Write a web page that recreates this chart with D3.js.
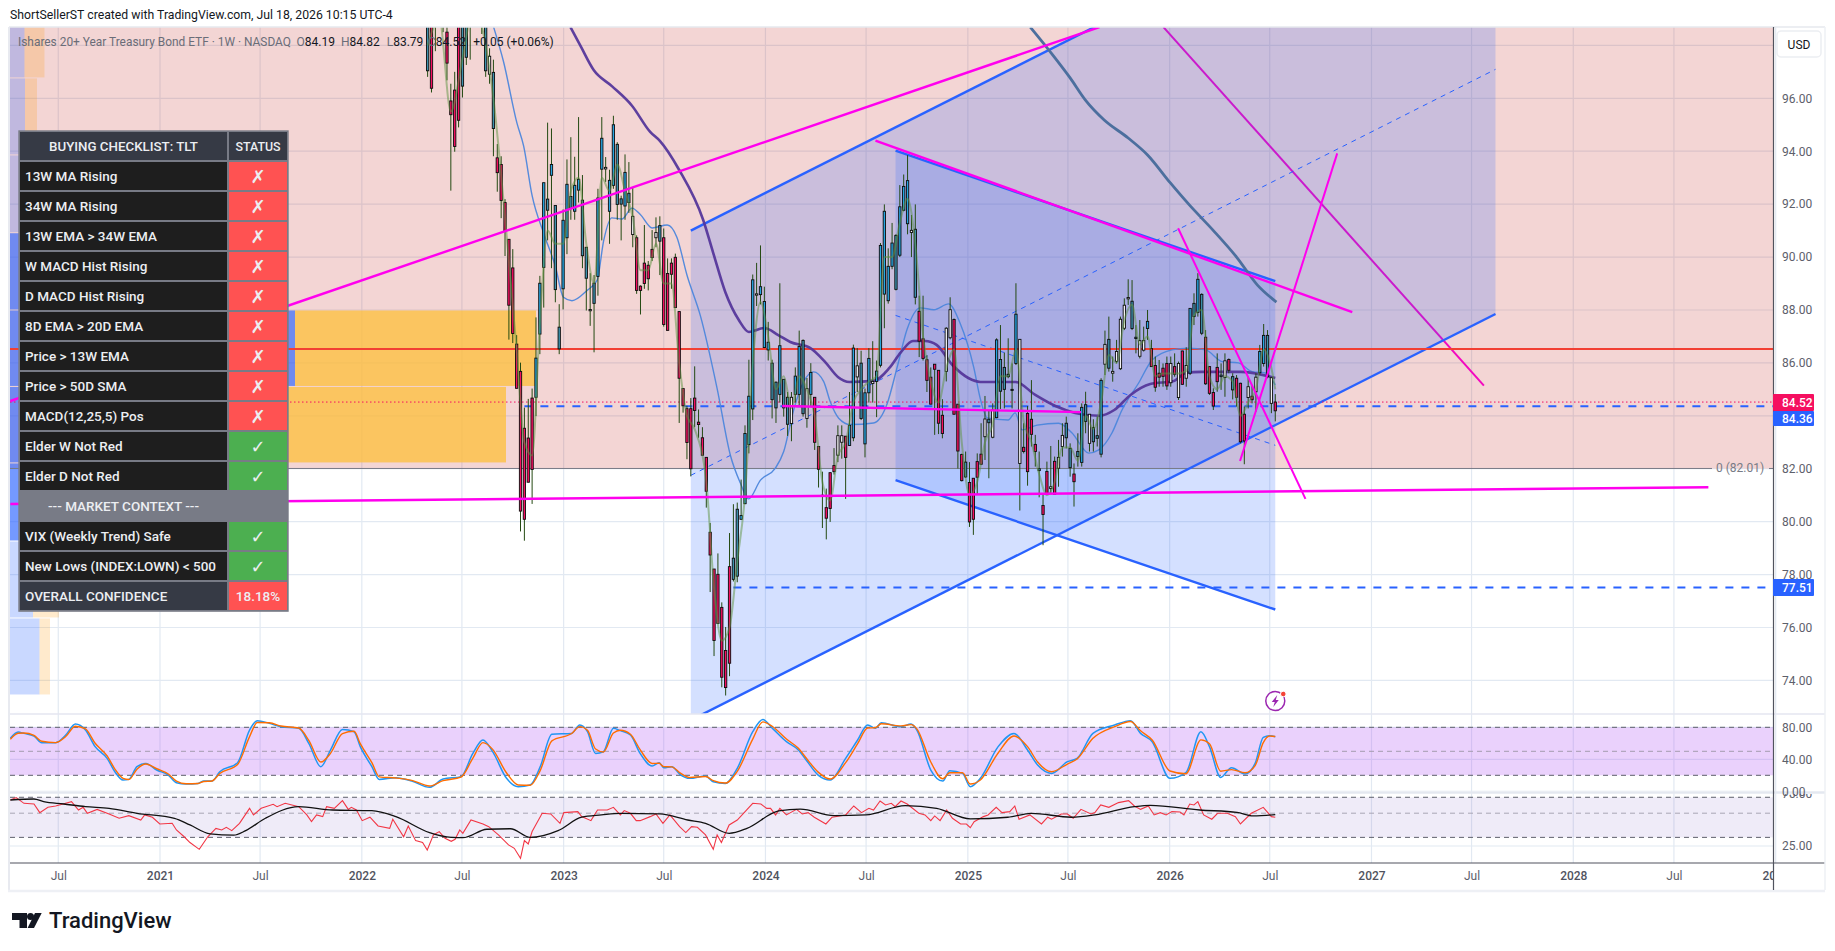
<!DOCTYPE html>
<html>
<head>
<meta charset="utf-8">
<title>TLT weekly</title>
<script src="https://cdn.jsdelivr.net/npm/d3@7"></script>
<style>
  html, body { margin: 0; padding: 0; background: #fff; overflow: hidden; }
  svg { display: block; font-family: Roboto, sans-serif; }
  .axis text { font-size: 12px; fill: #5d606b; font-family: Roboto, sans-serif; }
  .axis path, .axis line { display: none; }
</style>
</head>
<body>
<div id="chart"></div>
<script>
// weekly candles of TLT, one entry per week, last one is the current week
const weekOpen = [
  97.04,99.5,101,101,101,98.5,95.9,96.31,99.5,96.46,
  97.55,99,100,99.6,99.3,97.04,96.91,94.86,93.75,93.5,
  92.06,90.67,89.59,86.71,85.68,83.53,83.16,84.67,84.7,87.09,
  89.61,91.77,93.09,88.77,86.53,88.8,90.73,91.84,91.73,92.53,
  90.05,89.2,87.97,88.25,89.27,93.32,93.33,91.73,92.71,91.99,
  92,91.93,92.06,90.85,90.73,88.9,89.77,89.69,90.29,90.73,
  90.6,90.73,89.38,89.77,89.99,87.94,85.03,84.27,84.27,84.67,
  83.76,83.17,82.43,79.6,78.21,78.01,76.76,75.13,78.3,77.82,
  77.94,80.09,80.68,82.91,84.26,88.56,88.58,86.58,86.49,84.61,
  84.3,84.81,84.3,83.68,83.71,84.81,84.81,84.08,83.9,84.81,
  84.7,82.84,80.95,80.53,81.85,82.12,82.51,83,83.23,82.88,
  83.17,85.47,83.9,82.94,84.87,85.22,85.3,85.91,88.6,88.35,
  89.65,88.78,90.07,91.77,91.26,90.93,88.48,87.95,86.91,86.12,
  85.46,85.95,85.72,84.02,85.68,86.95,87.64,84.44,82.54,81.69,
  81.48,81.64,82.27,82.55,83.21,83.74,83.19,83.93,84.93,85,
  85.48,84.96,85.98,82.2,82.81,84.09,83.87,82.92,81.93,80.61,
  81.9,81.25,82.28,82.02,82.84,83.17,82.04,81.8,82.46,82.24,
  83.79,82.96,83.02,83.15,82.55,85.95,85.8,85.61,86.06,85.78,
  87.31,88.42,87.3,86.92,86.25,86.48,87.3,86.54,85.9,85.61,
  85.8,85.98,85.25,85.86,84.69,86.45,85.42,85.61,87.75,87.91,
  87.12,86.97,85.86,84.88,85.83,85.48,85.45,86.13,84.98,85.42,
  85.23,84.06,84.69,84.74,84.91,85.63,85.98,85.48,84.47,84.19
];
const weekHigh = [
  100.5,100.2,101.5,102,101.5,100,96.55,97,100,100,
  100,101,101.5,101,100.5,100,97.89,97.46,94.27,93.81,
  92.19,90.67,90.3,87.05,86.01,84.31,84.64,85.03,87.72,89.29,
  92.81,95.08,94.86,91.95,88.22,91.8,93.69,94.53,93.79,95.29,
  93.1,90.37,89.39,89.32,92.58,95.29,93.78,93.3,95.34,94.34,
  92.32,93.88,93.59,92.62,90.82,88.93,91.21,89.85,91.02,91.5,
  91.54,91.08,89.95,89.95,90.13,87.94,85.03,84.38,84.67,85.87,
  84.24,83.57,82.44,79.95,78.21,78.8,76.95,76.02,79.57,80.66,
  80.72,81.59,83.64,86.12,89.34,89.78,90.44,88.88,87.55,86.12,
  85.3,89.01,85.38,84.9,84.9,85.83,87.22,86.89,85.43,85.99,
  84.7,82.84,81.89,81.25,81.87,82.78,83.64,83.64,83.23,84.9,
  86.69,86.56,86.46,85.03,86.56,86.82,86.09,90.53,91.99,90.33,
  91.29,90.86,92.72,93.12,93.85,91.59,91.99,88.54,88.54,86.29,
  85.83,85.95,85.72,84.63,87.35,88.48,87.68,84.44,82.57,82.65,
  82.25,81.64,82.58,83.72,84.75,84.22,84.47,86.93,87.43,86.39,
  86.93,85.98,89.01,86.89,83.72,84.37,85.35,83.28,82.65,81.07,
  82.27,82.86,82.46,83.09,83.72,83.97,82.96,82.2,83.34,84.47,
  84.91,84.06,83.87,83.97,85.42,87.22,87.75,86.24,86.87,87.75,
  88.44,89.16,89.13,87.43,87.62,87.37,88,86.87,86.24,86.11,
  85.98,86.24,86.24,86.36,86.05,86.46,86.59,88.06,88.63,89.39,
  88.63,87.24,85.88,85.04,86.36,85.98,86.36,86.17,85.61,85.54,
  85.25,84.35,85.48,85.17,85.61,86.68,87.47,87.24,85.46,84.82
];
const weekLow = [
  96.81,96.22,97.78,99.2,98.5,96.68,92.51,93.98,94.9,96.03,
  97.26,97.46,99,99,98.43,96.81,96.55,93.81,92.47,91.47,
  90.04,86.88,86.75,85.03,79.63,79.28,81.49,80.67,83.99,86.33,
  88.09,90.63,89.58,88.29,86.33,88.02,90.11,91.41,91.41,92.06,
  89.58,87.98,87.4,86.4,88.54,90.63,92.84,90.5,92.58,91.41,
  90.63,91.41,91.67,90.37,88.61,87.83,88.8,88.74,89.85,90.37,
  89.32,87.37,87.23,88.8,88.09,83.73,84.12,82.36,81.71,83.57,
  83.17,82.51,80.53,77.34,74.92,76.15,73.74,73.43,74.16,77.74,
  77.71,80.06,80.66,82.58,83.84,88.15,88.21,86.56,86.09,83.9,
  83.73,84.5,83.97,83.24,83.04,84.5,84.37,83.97,83.55,84.37,
  82.71,81.29,79.76,79.33,79.99,81.78,82.25,82.38,80.86,82.88,
  83.04,84.9,83.84,82.43,84.5,84.5,83.95,85.83,87.31,88.24,
  89.54,88.74,90,91.73,90.86,90,88.21,86.22,86.09,84.9,
  84.44,83.28,83.31,83.15,85.3,86.89,84.04,82.01,81.52,81.65,
  79.8,79.5,81.03,82.14,82.33,81.64,83.15,83.91,84.26,84.28,
  85.42,84.28,85.92,80.42,82.58,81.36,82.84,82.08,80.92,79.11,
  81.03,81.07,81.03,81.32,82.46,82.77,81.7,80.57,82.08,82.08,
  83.34,82.65,82.65,82.84,82.43,85.54,85.67,85.29,85.98,85.73,
  87.24,88.19,87.24,86.36,86.17,86.43,86.87,85.86,84.91,85.1,
  85.1,84.98,85.1,85.48,84.6,85.17,85.1,85.54,87.43,87.75,
  87.05,85.17,84.79,84.22,84.91,84.98,84.72,85.61,84.62,84.35,
  82.96,82.17,84.28,84.47,84.16,85.54,85.86,85.42,84.1,83.79
];
const weekClose = [
  99.5,96.38,99.5,100,99.5,97.33,95.38,94.18,95.17,99.5,
  99.8,100.5,101,100.5,100,99.5,97.59,96.98,93.19,92.14,
  90.98,88.18,87.11,85.04,80.4,80.09,81.49,81.97,86.18,89.01,
  92.81,92.19,93.5,91.95,87.35,91.39,92.75,92.29,92.71,92.94,
  92.15,90.37,88.02,89.01,92.23,94.49,93.39,92.9,95,94.26,
  92.2,93.2,92.41,91.54,88.74,88.74,89,89.18,89.98,90.93,
  91.19,87.45,87.23,89.35,88.09,85.42,84.38,82.99,82,84.2,
  83.67,82.51,81.15,78.74,75.51,76.15,74.12,73.73,74.65,78.62,
  80.47,80.23,83.33,84.74,89.14,88.61,88.88,88.32,86.78,85.99,
  85.27,86.65,85.38,84.7,84.7,85.5,86.62,86.85,85.03,85.64,
  83,81.98,81,80.13,80.5,81.89,83.25,83.25,82.43,83.64,
  86.56,85.89,85.99,84.87,86.17,85.3,85.69,90.44,91.73,89.65,
  90.53,90.82,91.9,92.67,92.89,91.01,91.05,86.82,86.17,85.34,
  84.44,85.76,83.72,83.33,87.31,88.01,84.06,82.67,81.55,82.25,
  79.99,80.09,81.68,82.17,83.88,83.87,84.22,86.87,86.13,85.83,
  85.57,85,87.84,86.89,82.65,81.89,83.3,82.65,82,80.27,
  81.03,81.32,81.03,82.43,83.26,83.72,82.77,81.51,82.65,84.32,
  84.42,84.06,83.55,83.25,85.34,86.7,86.89,85.68,86.43,87.65,
  88.18,88.47,88.33,86.97,86.84,86.85,87.57,85.86,85.08,85.46,
  85.49,85.13,85.98,85.57,85.98,85.19,85.9,88.06,88.25,89.16,
  88.59,85.21,84.85,84.37,85.29,85.54,86.08,85.72,85.48,84.7,
  83.02,83.05,85.1,84.61,85.46,86.43,87.04,87.04,85.44,84.52
];
// bar colouring of the indicator: b blue, t muted blue, w white, p pink
const weekTone = "tppppppppt" + "ttttttwtpp" + "ppppppppbb" + "btbttbbtbb" + "ttwtbbwbbt" +
  "tbtwpppppw" + "tppppppppp" + "pppppppppt" + "tbbbbwbbbt" + "tbttwbbtwb" +
  "ppwpppwwpb" + "bwtbbwbbbb" + "btbbbwtppp" + "ppppwwpppt" + "ppppwtwbtt" +
  "ttbwpppptp" + "pwpwwttptb" + "twttbwtwww" + "wwttwwbppp" + "ppwpwpwbtb" +
  "tpppptwptp" + "ppwpwbbtwp";

// moving averages, read at these week numbers (0 = first candle on screen)
const fastWeeks = [0,3,6,9,12,15,17,20,23,25,27,29,31,33,35,37,39,41,43,45,47,49,51,53,55,57,59,61,63,65,67,69,72,74,76,78,80,82,84,86,88,90,92,94,96,98,100,102,104,106,108,110,112,114,116,118,120,122,124,126,128,130,132,134,136,138,140,142,144,146,148,150,152,154,156,158,160,162,164,166,168,170,172,174,176,178,180,182,184,186,188,190,192,194,196,198,200,202,204,206,208,210,212,214,216,218,219];
const fastValues = [98,99,95.5,97.5,99.5,98,96,91.5,86.5,83,82.5,87.5,91,90.5,90.5,92.5,93,90.5,89,93,92.5,93.5,92.5,91.5,89.5,89.5,90.5,89,89,86,84,83.5,81.5,77.5,75.5,76,78.5,81,86,88.3,87,85,85.5,84.3,85.5,85,84,81.5,80.8,82.5,83,84.5,85,85.3,85.5,90,90,91.3,92.2,90.5,87,85.3,84.5,85.8,86.5,83,81,81.5,83,83.7,85.5,85.5,86.5,83.8,83,81.8,81,81.5,82.8,82.8,82.3,84,83.5,84.5,86.3,86,87.6,88.2,86.7,87,85.5,85.6,85.6,85.6,85.7,87.8,88,85.5,85,85.5,85.3,84,84.5,85,86.5,85.8,85];

const ma13Weeks = [17.05,19.6,23.1,24.8,27,30,33,35.1,37.3,41.2,43.8,45.5,47.6,50.2,52.8,55,58,61.9,64.4,67,70.5,74.8,78.2,80.8,82.9,86,89.8,92,94.6,97.2,99.7,102.3,104.1,106.2,109.2,115.2,118.7,121.3,123.9,127.3,130.8,134.6,137.6,141.1,142.8,144.6,150,151.8,153.6,157.5,163,166.5,170.8,173.4,176.8,179.4,183.7,187.2,192.3,196.6,201,205.3,209.5,213,216.4,219];
const ma13Values = [98.69,97.39,95.05,94.2,92.32,90.89,89.65,88.48,88.35,88.74,89.13,90.63,91.48,91.44,91.85,91.6,91.1,91.21,90.75,89.32,87.77,85.03,82.52,81.46,80.86,81.57,82.01,82.65,84.24,85.3,85.66,85.3,84.5,83.91,83.67,83.73,84.45,85.83,87.28,88.08,88.01,88.23,87.49,85.83,84.64,83.92,83.84,84.11,83.47,83.65,83.72,83.35,82.59,82.71,83.35,84.22,85.24,86.11,86.49,86.56,86.49,86.05,86,85.67,85.62,85.17];

const ma34Weeks = [36.9,39.5,42.9,47.6,52.8,57.5,60,65,71.2,73.8,76.9,80.4,83,87,90.6,93.7,98.9,102.9,106,109,115.2,119.3,122.3,125.4,128.5,131.5,135.6,139.7,142.8,146.9,151.9,157,162.2,167.3,173.4,177.4,181.6,186.7,192.8,195.9,199.9,210,219];
const ma34Values = [98.69,97.98,97.07,96.46,95.72,94.73,94.39,93.29,91.4,90.15,88.68,87.62,87.17,87.32,87.05,86.79,86.56,86,85.47,85.28,85.32,85.81,86.41,86.83,86.83,86.68,85.92,85.43,85.28,85.28,85.28,84.79,84.37,84.11,84,84.22,84.79,85.2,85.32,85.62,85.66,85.66,85.43];

const ma200Weeks = [155.7,160.9,166,169.9,174.8,181,186,191.9,196.8,202.9,209,214.4,219.3];
const ma200Values = [98.69,97.75,96.77,95.94,95.18,94.5,93.86,92.8,91.97,91.02,90,88.94,88.3];

// drawn lines and channels: start week, start price, end week, end price
const magentaBold = [
  [-107.8,84.56,173.6,98.69],
  [-107.8,80.67,330.9,81.3],
  [115.7,94.4,238.9,87.92],
  [91.6,84.37,168.8,84.14]
];
const magentaThin = [
  [193.9,91.09,226.8,80.86],
  [209.9,82.29,235,93.92]
];
const magentaUnder = [190.1,98.69,272.9,85.14];
// start week, end week, upper start, upper end, lower start, lower end
const channelLong = [68,275.9,91,106.34,72.5,87.85];
const channelShort = [120.9,219,94.02,89.09,81.57,76.68];

const supportLevel = 86.53;
const lastPrice = 84.52;
const levelNear = { startWeek: 25, price: 84.36 };
const levelFar = { startWeek: 79, price: 77.51 };
const fibZero = 82.01;

// volume profile on the left
const profileEdges = [99.67,96.77,93.86,90.92,88,85.11,82.22,79.27,76.36,73.45];
const profileUp = [14.5,15,20,190,285,220,150,23,29.5];
const profileDown = [20,12,12,30,241,276,60,26,10.5];
const profileInValueArea = [false,false,false,true,true,true,true,false,false];

// stochastic pane
const stochWeeks = [
  -107.8,-105.8,-104.3,-101.7,-99.7,-96.1,-93.5,-91,-88.4,-85.9,
  -82.8,-80.8,-78.7,-77.2,-75.1,-72.8,-70,-67,-64.9,-62.4,
  -59.3,-57.8,-55.7,-53.7,-49.1,-46,-44,-40.9,-37.9,-33.3,
  -30.7,-27.6,-25.1,-22,-19,-17.4,-14.4,-12.5,-8.2,-4.1,
  0.5,4,8.6,11.7,14.3,16.8,20.4,23.4,26.5,29.1,
  32.1,37.2,39.3,41.3,43.4,45.4,48,49.8,52.4,54.9,
  58,59.8,61,63.1,65.1,67.7,71.8,73.8,76.9,80,
  84,86.6,89.1,92.7,95.8,97.8,100.9,104,108,111.1,
  113.7,115.7,117.2,122.3,124.9,126.4,130,133.1,134.9,138.2,
  140.2,142.8,147.4,151.5,155,157.6,161.2,165.3,167.8,171.9,
  177.5,181.6,184.2,187.2,191.8,195.9,199.8,202,204.9,207.7,
  211.2,213.8,215.9,217.5,219
];
const stochK = [
  66.2,74.1,72.4,69.1,60.8,60.8,70.3,84.1,76.6,55.8,
  41.2,24.5,14.1,14.9,30.8,34.9,26.6,20.3,10.8,9.1,
  9.9,12.9,12.9,24.5,35.8,76.6,88.3,84.9,80.8,78.7,
  59.9,30.8,51.6,77.4,74.5,55.8,30.8,14.9,17,12.9,
  5,15.4,18.3,47.4,64.1,49.5,16.2,5.8,7.9,30.8,
  71.2,72.4,82.9,74.5,47.4,49.5,78.7,75.8,70.3,47.4,
  31.6,35.8,29.5,30.8,21.6,16.2,19.1,12,9.9,28.7,
  74.5,89.9,78.7,62,51.6,39.1,20.3,14.1,41.2,64.1,
  82.9,78.7,85.8,80.8,84.1,76.6,26.6,12.9,25.8,22.4,
  5.8,16.2,55.8,72.4,51.6,32.8,22.4,37,41.2,72.4,
  82.9,88.3,72.4,62,16.2,23.3,74.5,55.8,17.4,29.5,
  21.6,34.9,67.4,69.5,68.3
];
const stochD = [
  65,72.5,72.8,69.8,62.5,60.8,68.4,81.4,78,60,
  44.2,27.8,16.2,14.7,27.6,34.1,28.3,21.6,12.7,9.4,
  9.7,12.3,12.9,22.2,33.5,68.4,86,85.6,81.6,79.1,
  63.7,36.6,47.4,72.2,75.1,59.5,35.8,18.1,16.6,13.7,
  6.6,13.3,17.7,41.6,60.8,52.4,22.9,7.9,7.5,26.2,
  63.1,72.2,80.8,76.2,52.8,49.1,72.9,76.4,71.4,52,
  34.8,35,30.8,30.5,23.4,17.3,18.5,13.4,10.3,24.9,
  65.3,86.8,81,65.3,53.7,41.6,24,15.3,35.8,59.5,
  79.1,79.5,84.4,81.8,83.4,78.1,36.6,15.6,23.2,23.1,
  9.1,14.1,47.9,69.1,55.8,36.6,24.5,34.1,40.4,66.2,
  80.8,87.2,75.6,64.1,25.4,21.9,64.3,59.5,25.1,27.1,
  23.2,32.2,60.9,69.1,68.5
];

// rsi pane
const rsiWeeks = [
  -107.8,-106.3,-104.3,-101.7,-100.2,-98.1,-96.1,-92,-90.2,-89,-87.9,-85.4,-82.3,-79.7,-77.2,-74.1,-73.1,-71.1,-69.2,-66,
  -64.9,-62.9,-61.4,-59,-56.8,-54.7,-53.2,-52,-50.6,-48.6,-46,-45,-43,-39.9,-38.9,-36.8,-33.3,-31.2,-30,-28.7,
  -27.1,-26.1,-24.1,-22,-20.5,-19.7,-18.4,-16.9,-14.9,-12.8,-9.8,-9,-6.2,-5,-3.1,-1.3,-0.1,1.5,3,4.5,
  6.1,7.1,8.3,9.1,11.2,14.3,15.8,18.3,20.9,22.4,24,25,26,27,29.6,31.8,34.2,35.2,38.8,39.8,
  42.2,43.9,46.4,48,49.8,50.8,52.4,53.9,54.9,57.5,59,60.8,62.6,65.1,66.7,68.2,69.7,71.8,73.8,74.8,
  75.9,77.9,80,84,86.1,87.6,88.6,89.9,91,92.7,95.3,96.8,98.3,99.9,102.9,104.5,108,110.1,112.1,114,
  115.2,116.9,118.3,119.8,120.8,122.3,123.9,126.9,128.5,130,131,132.4,134.1,135.6,137.7,139.2,140.2,141.2,143.6,144.8,
  146.9,148.4,150.4,151.7,152.8,155.6,158.6,160.2,161.2,163.7,165.3,166.8,168.8,171.4,172.4,173.9,176,178.5,181.1,182.6,
  184.2,186.2,187.7,189.3,190.8,192.3,194.4,195.4,196.9,198,199,200.5,202.6,204.1,206.6,208.7,210,212.8,215.9,218,219
];
const rsiValues = [
  66.1,69.6,61.6,60.7,50.6,56.6,58.2,63.8,53.5,56.6,49.9,54.2,49.2,44.9,47.5,43.3,48.2,45.9,39.8,40.4,
  35.1,30.4,26.9,23.3,30.4,36.3,35.1,37.1,34.6,40.4,55.4,48.2,55.4,60.3,57.4,61.6,57.4,48.2,41.8,48.2,
  46.5,57.4,55.4,65.2,54.2,56.6,53.5,42.7,45.9,38.2,36.3,44,30.4,38.2,28,26.9,23,31.6,33.9,29.4,
  27.6,28.8,35.1,32.7,43.3,39.8,37.6,31.6,25.6,23.8,19.3,28,26.1,33.9,49.9,49.2,40.4,50.6,51.7,46.5,
  42.7,53.5,53.5,56.6,48.2,52.8,49.9,42.7,42.7,46.5,49.2,40.4,48.2,37.6,33.2,37.6,37.1,31.6,23.3,31.6,
  26.9,39,43.3,61.6,60.7,55.4,55.4,48.2,55.4,48.2,54.2,49.2,50.6,45.9,39.8,45.9,48.2,58.2,50.6,55.4,
  53.5,64.7,59.5,61.6,57.4,64.7,60.7,49.9,48.2,42.7,47.2,42.7,53.5,44.9,39.8,39.8,36.8,41.8,46.5,48.2,
  56.6,50.6,51.7,58.2,44,48.2,39.8,45.9,44,49.2,49.2,44.9,54.2,49.2,50.6,59.5,56.6,62.5,65.2,58.2,
  54.2,58.2,48.2,50.6,48.2,51.7,51.3,48.2,60.7,59.5,63.8,48.2,44,49.9,49.9,46.5,39.8,49.9,56.6,46.5,45.9
];
const rsiMaWeeks = [-107.8,-101.7,-99.2,-94,-88.4,-82.3,-75.1,-65.4,-61.4,-56.2,-50.1,-47,-41.9,-33.3,-24.6,-14.4,-8.2,0.5,6.1,9.1,15.3,21.4,26.5,33.7,39.8,44.9,49.8,60,67.2,71.8,77.9,82.5,90.7,96.3,105,113.2,123.4,131.5,140.2,149.9,156,166.3,172.4,182.6,186.7,199.5,209.1,213.3,219];
const rsiMaValues = [66.1,67.5,63.8,60.7,57.4,55.4,49.9,44.9,39,32.3,31.4,34.6,44.9,57.4,53.5,52.8,46.5,33.2,30,29.8,35.6,36,30,34.6,45.9,48.2,49.9,49.2,43.3,40.4,32.7,36.3,52.4,54.6,47.5,48.2,58.6,55.4,44.3,45.9,49.9,45.9,48.2,57.4,59,53.5,50.9,47.2,48.5];

// axis labels
const priceTicks = [74,76,78,80,82,84,86,88,90,92,94,96];
const priceGrid = [74,76,78,80,82,84,86,88,90,92,94,96,98];
const stochTicks = [0,40,80];
const stochLevels = [80,50,20];
const rsiTicks = [25,75];
const rsiLevels = [70,50,30];
const timeTicks = ["2020-07-01","2021-01-01","2021-07-01","2022-01-01","2022-07-01","2023-01-01","2023-07-01","2024-01-01","2024-07-01","2025-01-01","2025-07-01","2026-01-01","2026-07-01","2027-01-01","2027-07-01","2028-01-01","2028-07-01","2029-01-01"];

// checklist table
const checklistTitle = ["BUYING CHECKLIST: TLT", "STATUS"];
const checklistRows = ["13W MA Rising","34W MA Rising","13W EMA > 34W EMA","W MACD Hist Rising","D MACD Hist Rising","8D EMA > 20D EMA","Price > 13W EMA","Price > 50D SMA","MACD(12,25,5) Pos","Elder W Not Red","Elder D Not Red","--- MARKET CONTEXT ---","VIX (Weekly Trend) Safe","New Lows (INDEX:LOWN) < 500","OVERALL CONFIDENCE"];
const checklistStatus = ["✗","✗","✗","✗","✗","✗","✗","✗","✗","✓","✓","","✓","✓","18.18%"];

// layout
const W = 1835, H = 951;
const left = 10, right = 1773, axisRight = 1825;
const mainTop = 27, mainBottom = 714;
const stochBottom = 791, rsiTop = 794, rsiBottom = 863, frameBottom = 890;

const svg = d3.select("#chart").append("svg").attr("width", W).attr("height", H);

const x = d3.scaleUtc()
  .domain([Date.UTC(2021, 0, 1), Date.UTC(2028, 0, 1)])
  .range([160, 1573.3]);
const y = d3.scaleLinear().domain([96, 76]).range([98.3, 627.5]);
const yStoch = d3.scaleLinear().domain([80, 0]).range([727.3, 791.3]);
const yRsi = d3.scaleLog().domain([75, 25]).range([794, 846]);

const lastBarTime = Date.UTC(2026, 6, 11);
const weekMs = 7 * 24 * 3600 * 1000;
const xWeek = w => x(new Date(lastBarTime + (w - 219) * weekMs));

const priceLine = d3.line().x(d => xWeek(d[0])).y(d => y(d[1]));

// clip regions
const defs = svg.append("defs");
const clip = (id, x0, y0, x1, y1) => defs.append("clipPath").attr("id", id).append("rect")
  .attr("x", x0).attr("y", y0).attr("width", x1 - x0).attr("height", y1 - y0);
clip("clip-main", left, mainTop, right, mainBottom);
clip("clip-stoch", left, mainBottom, right, stochBottom);
clip("clip-rsi", left, rsiTop, right, rsiBottom);
clip("clip-time", left, rsiBottom, right, frameBottom);
clip("clip-rsi-axis", right, rsiTop, axisRight, rsiBottom);

svg.append("rect").attr("width", W).attr("height", H).attr("fill", "#fff");

// grid
const timeDates = timeTicks.map(d => new Date(d + "T00:00:00Z"));
svg.append("g").selectAll("line").data(timeDates).enter().append("line")
  .attr("x1", d => x(d)).attr("x2", d => x(d))
  .attr("y1", mainTop).attr("y2", rsiBottom)
  .attr("stroke", "#e2e9f2").attr("stroke-width", 1.2);
const main = svg.append("g").attr("clip-path", "url(#clip-main)");
main.append("g").selectAll("line").data(priceGrid).enter().append("line")
  .attr("x1", left).attr("x2", right)
  .attr("y1", d => y(d)).attr("y2", d => y(d))
  .attr("stroke", "#e2e9f2").attr("stroke-width", 1.2);

// this one sits under the channel fill
main.append("path").datum([magentaUnder.slice(0, 2), magentaUnder.slice(2)])
  .attr("d", priceLine).attr("fill", "none").attr("stroke", "#ff00e6").attr("stroke-width", 2);

// pink zone above the fib level
main.append("rect").attr("x", left).attr("y", mainTop)
  .attr("width", right - left).attr("height", y(fibZero) - mainTop)
  .attr("fill", "rgba(195,45,40,0.2)");

// volume profile
const profileX = d3.scaleLinear().domain([0, 100]).range([left, left + 100]);
const profile = main.append("g");
profileUp.forEach((up, i) => {
  const top = y(profileEdges[i]) + 0.5, h = y(profileEdges[i + 1]) - y(profileEdges[i]) - 1;
  const strong = profileInValueArea[i];
  profile.append("rect").attr("x", profileX(0)).attr("y", top)
    .attr("width", profileX(up) - profileX(0)).attr("height", h)
    .attr("fill", strong ? "rgba(41,98,255,0.65)" : "rgba(41,98,255,0.25)");
  profile.append("rect").attr("x", profileX(up)).attr("y", top)
    .attr("width", profileX(profileDown[i]) - profileX(0)).attr("height", h)
    .attr("fill", strong ? "rgba(252,193,66,0.8)" : "rgba(255,152,0,0.2)");
});

// channels
function drawChannel(c) {
  const [w0, w1, up0, up1, lo0, lo1] = c;
  main.append("path")
    .datum([[w0, up0], [w1, up1], [w1, lo1], [w0, lo0]])
    .attr("d", d => priceLine(d) + "Z")
    .attr("fill", "rgba(41,98,255,0.2)");
}
function drawChannelLines(c) {
  const [w0, w1, up0, up1, lo0, lo1] = c;
  [[up0, up1], [lo0, lo1]].forEach(p => {
    main.append("path").datum([[w0, p[0]], [w1, p[1]]]).attr("d", priceLine)
      .attr("stroke", "#2962ff").attr("stroke-width", 2.4).attr("fill", "none");
  });
  main.append("path").datum([[w0, (up0 + lo0) / 2], [w1, (up1 + lo1) / 2]]).attr("d", priceLine)
    .attr("stroke", "#2962ff").attr("stroke-width", 1).attr("stroke-dasharray", "5 5").attr("fill", "none");
}
drawChannel(channelLong);
drawChannel(channelShort);

// fib base line with a gap for its label
main.append("line").attr("x1", left).attr("x2", 1712).attr("y1", y(fibZero)).attr("y2", y(fibZero))
  .attr("stroke", "#787b86").attr("stroke-width", 1);
main.append("line").attr("x1", 1769).attr("x2", right).attr("y1", y(fibZero)).attr("y2", y(fibZero))
  .attr("stroke", "#787b86").attr("stroke-width", 1);
svg.append("text").attr("x", 1716).attr("y", y(fibZero) + 4).text("0 (82.01)")
  .attr("font-size", 12).attr("fill", "#787b86");

drawChannelLines(channelLong);
drawChannelLines(channelShort);

// horizontal levels
main.append("line").attr("x1", left).attr("x2", right).attr("y1", y(supportLevel)).attr("y2", y(supportLevel))
  .attr("stroke", "#f23f33").attr("stroke-width", 2);
[levelNear, levelFar].forEach(l => {
  main.append("line").attr("x1", xWeek(l.startWeek)).attr("x2", right).attr("y1", y(l.price)).attr("y2", y(l.price))
    .attr("stroke", "#2962ff").attr("stroke-width", 2).attr("stroke-dasharray", "8 8");
});
main.append("line").attr("x1", left).attr("x2", right).attr("y1", y(lastPrice)).attr("y2", y(lastPrice))
  .attr("stroke", "#f50f60").attr("stroke-width", 1).attr("stroke-dasharray", "1.5 2.5");

// moving averages under the candles
const drawMa = (weeks, values, color, width, opacity) => main.append("path")
  .datum(d3.zip(weeks, values))
  .attr("d", priceLine.curve(d3.curveMonotoneX))
  .attr("fill", "none").attr("stroke", color).attr("stroke-width", width).attr("stroke-opacity", opacity);
drawMa(ma13Weeks, ma13Values, "#4c86dc", 1.4, 0.95);
drawMa(ma34Weeks, ma34Values, "#55379b", 2.6, 0.95);
drawMa(ma200Weeks, ma200Values, "#4c6f9e", 2.8, 1);
priceLine.curve(d3.curveLinear);

// candles
const toneFill = { b: "#27a6e2", t: "#3d92ae", w: "#f3f3f6", p: "#f50f60" };
const candles = d3.range(weekOpen.length).map(i => ({
  i, o: weekOpen[i], h: weekHigh[i], l: weekLow[i], c: weekClose[i], tone: weekTone[i]
}));
const candleG = main.append("g");
candleG.selectAll("line").data(candles).enter().append("line")
  .attr("x1", d => xWeek(d.i)).attr("x2", d => xWeek(d.i))
  .attr("y1", d => y(d.h)).attr("y2", d => y(d.l))
  .attr("stroke", "#244a12").attr("stroke-width", 1);
candleG.selectAll("rect").data(candles).enter().append("rect")
  .attr("x", d => xWeek(d.i) - 1.15)
  .attr("y", d => y(Math.max(d.o, d.c)))
  .attr("width", 2.3)
  .attr("height", d => Math.max(0.6, Math.abs(y(d.o) - y(d.c))))
  .attr("fill", d => toneFill[d.tone])
  .attr("stroke", "#0c0c0c").attr("stroke-width", 0.9);

drawMa(fastWeeks, fastValues, "#5d9440", 2, 0.5);
priceLine.curve(d3.curveLinear);

// magenta trend lines go on top
magentaBold.forEach(t => {
  main.append("path").datum([t.slice(0, 2), t.slice(2)]).attr("d", priceLine)
    .attr("stroke", "#ff00ee").attr("stroke-width", 2.4).attr("fill", "none");
});
magentaThin.forEach(t => {
  main.append("path").datum([t.slice(0, 2), t.slice(2)]).attr("d", priceLine)
    .attr("stroke", "#ff00ee").attr("stroke-width", 2).attr("fill", "none");
});

// stochastic pane
const stochG = svg.append("g").attr("clip-path", "url(#clip-stoch)");
stochTicks.forEach(v => stochG.append("line").attr("x1", left).attr("x2", right)
  .attr("y1", yStoch(v)).attr("y2", yStoch(v)).attr("stroke", "#e2e9f2").attr("stroke-width", 1.2));
stochG.append("rect").attr("x", left).attr("y", yStoch(stochLevels[0]))
  .attr("width", right - left).attr("height", yStoch(stochLevels[2]) - yStoch(stochLevels[0]))
  .attr("fill", "rgba(170,70,245,0.25)");
stochLevels.forEach((v, i) => stochG.append("line").attr("x1", left).attr("x2", right)
  .attr("y1", yStoch(v)).attr("y2", yStoch(v))
  .attr("stroke", i === 1 ? "#a49cae" : "#5d606b").attr("stroke-width", 1).attr("stroke-dasharray", "5 4"));
const stochLine = d3.line().x(d => xWeek(d[0])).y(d => yStoch(d[1])).curve(d3.curveMonotoneX);
stochG.append("path").datum(d3.zip(stochWeeks, stochK)).attr("d", stochLine)
  .attr("fill", "none").attr("stroke", "#2196f3").attr("stroke-width", 1.5);
stochG.append("path").datum(d3.zip(stochWeeks, stochD)).attr("d", stochLine)
  .attr("fill", "none").attr("stroke", "#ff6d00").attr("stroke-width", 1.4);

// rsi pane
const rsiG = svg.append("g").attr("clip-path", "url(#clip-rsi)");
rsiG.append("line").attr("x1", left).attr("x2", right).attr("y1", yRsi(25)).attr("y2", yRsi(25))
  .attr("stroke", "#e2e9f2").attr("stroke-width", 1.2);
rsiG.append("rect").attr("x", left).attr("y", yRsi(rsiLevels[0]))
  .attr("width", right - left).attr("height", yRsi(rsiLevels[2]) - yRsi(rsiLevels[0]))
  .attr("fill", "rgba(126,87,194,0.12)");
rsiLevels.forEach((v, i) => rsiG.append("line").attr("x1", left).attr("x2", right)
  .attr("y1", yRsi(v)).attr("y2", yRsi(v))
  .attr("stroke", i === 1 ? "#a9a6b4" : "#5d606b").attr("stroke-width", 1).attr("stroke-dasharray", "5 4"));
const rsiLine = d3.line().x(d => xWeek(d[0])).y(d => yRsi(d[1]));
rsiG.append("path").datum(d3.zip(rsiWeeks, rsiValues)).attr("d", rsiLine)
  .attr("fill", "none").attr("stroke", "#f23645").attr("stroke-width", 1.1);
rsiG.append("path").datum(d3.zip(rsiMaWeeks, rsiMaValues)).attr("d", rsiLine.curve(d3.curveMonotoneX))
  .attr("fill", "none").attr("stroke", "#111").attr("stroke-width", 1.3);

// frame
const frame = svg.append("g");
const frameLine = (x1, y1, x2, y2, color, w) => frame.append("line")
  .attr("x1", x1).attr("y1", y1).attr("x2", x2).attr("y2", y2)
  .attr("stroke", color).attr("stroke-width", w);
frameLine(left - 1, mainTop, axisRight, mainTop, "#e6e8ee", 1.5);
frameLine(left - 1, mainTop, left - 1, frameBottom, "#e8eaf0", 2);
frameLine(left, mainBottom, axisRight, mainBottom, "#e4e6f0", 1.5);
frameLine(left, 792.5, axisRight, 792.5, "#e4e8f0", 2.5);
frameLine(left, rsiBottom, axisRight, rsiBottom, "#50535e", 1.2);
frameLine(left - 2, frameBottom + 1, axisRight, frameBottom + 1, "#eef0f5", 2.5);
frameLine(right + 0.5, mainTop, right + 0.5, frameBottom, "#50535e", 1.2);
frameLine(axisRight, mainTop, axisRight, frameBottom, "#eef0f5", 1.5);

// axes
svg.append("g").attr("class", "axis").attr("transform", `translate(${right},0)`)
  .call(d3.axisRight(y).tickValues(priceTicks).tickSize(0).tickPadding(9).tickFormat(d3.format(".2f")));
svg.append("g").attr("class", "axis").attr("transform", `translate(${right},0)`)
  .call(d3.axisRight(yStoch).tickValues(stochTicks).tickSize(0).tickPadding(9).tickFormat(d3.format(".2f")));
svg.append("g").attr("clip-path", "url(#clip-rsi-axis)").append("g").attr("class", "axis")
  .attr("transform", `translate(${right},0)`)
  .call(d3.axisRight(yRsi).tickValues(rsiTicks).tickSize(0).tickPadding(9).tickFormat(d3.format(".2f")));

const timeAxis = svg.append("g").attr("clip-path", "url(#clip-time)").append("g").attr("class", "axis")
  .attr("transform", `translate(0,${rsiBottom})`)
  .call(d3.axisBottom(x).tickValues(timeDates).tickSize(0).tickPadding(8.5)
    .tickFormat(d => d.getUTCMonth() === 0 ? String(d.getUTCFullYear()) : "Jul"));
timeAxis.selectAll("text")
  .style("font-weight", d => d.getUTCMonth() === 0 ? 500 : 400)
  .style("fill", d => d.getUTCMonth() === 0 ? "#50535e" : "#5d606b");

// price boxes
const boxes = [
  { v: "84.52", top: 394, h: 17, fill: "#f50f60" },
  { v: "84.36", top: 411, h: 15, fill: "#2962ff" },
  { v: "77.51", top: 579, h: 17, fill: "#2962ff" }
];
boxes.forEach(b => {
  svg.append("rect").attr("x", right).attr("y", b.top).attr("width", 41).attr("height", b.h)
    .attr("rx", 1).attr("fill", b.fill);
  svg.append("text").attr("x", 1782).attr("y", b.top + b.h / 2 + 4).text(b.v)
    .attr("font-size", 12).attr("font-weight", 500).attr("fill", "#fff");
});

// USD button
svg.append("rect").attr("x", 1777).attr("y", 31).attr("width", 44).attr("height", 26).attr("rx", 4)
  .attr("fill", "#fff").attr("stroke", "#eceef2").attr("stroke-width", 1.5);
svg.append("text").attr("x", 1799).attr("y", 48.5).attr("text-anchor", "middle").text("USD")
  .attr("font-size", 12).attr("fill", "#131722");

// headline and legend
svg.append("text").attr("x", 10).attr("y", 19)
  .text("ShortSellerST created with TradingView.com, Jul 18, 2026 10:15 UTC-4")
  .attr("font-size", 12.25).attr("fill", "#131722");
const legendGrey = "#6a6d78", legendDark = "#131722";
svg.append("text").attr("x", 18).attr("y", 46)
  .text("Ishares 20+ Year Treasury Bond ETF · 1W · NASDAQ")
  .attr("font-size", 11.9).attr("fill", legendGrey);
[["O", "84.19", 296.6], ["H", "84.82", 341], ["L", "83.79", 386.7], ["C", "84.52", 428]].forEach(p => {
  const t = svg.append("text").attr("x", p[2]).attr("y", 46).attr("font-size", 12);
  t.append("tspan").attr("fill", legendGrey).text(p[0]);
  t.append("tspan").attr("fill", legendDark).text(p[1]);
});
svg.append("text").attr("x", 473.3).attr("y", 46).text("+0.05 (+0.06%)")
  .attr("font-size", 12).attr("fill", legendDark);

// alert icon by the last bar
const icon = svg.append("g").attr("transform", `translate(${xWeek(219)},701)`);
icon.append("circle").attr("r", 9.5).attr("fill", "#fff").attr("stroke", "#9c27b0").attr("stroke-width", 1.5);
icon.append("path").attr("d", "M2,-6 L-3.5,1 L-0.5,1 L-2,6 L3.5,-1 L0.5,-1 Z").attr("fill", "#9c27b0");
icon.append("circle").attr("cx", 8).attr("cy", -7).attr("r", 2.8).attr("fill", "#f44336").attr("stroke", "#fff");

// checklist table
const table = svg.append("g");
const rowH = 30, tableTop = 132, colA = 20, colAW = 207, colB = 229, colBW = 58;
table.append("rect").attr("x", 18.3).attr("y", 130.3).attr("width", 270.4).attr("height", 481.5).attr("fill", "#787b86");
const cellText = (tx, ty, str, anchor, size, font, weight) => table.append("text")
  .attr("x", tx).attr("y", ty).attr("text-anchor", anchor).text(str)
  .attr("font-size", size).attr("fill", "#eceef2")
  .attr("font-family", font || null).attr("font-weight", weight || 500);
table.append("rect").attr("x", colA).attr("y", tableTop).attr("width", colAW).attr("height", 28).attr("fill", "#363a45");
table.append("rect").attr("x", colB).attr("y", tableTop).attr("width", colBW).attr("height", 28).attr("fill", "#363a45");
cellText(colA + colAW / 2, tableTop + 19, checklistTitle[0], "middle", 13.3);
cellText(colB + colBW / 2, tableTop + 19, checklistTitle[1], "middle", 12.4);
checklistRows.forEach((label, i) => {
  const ry = tableTop + rowH * (i + 1);
  const status = checklistStatus[i];
  const isContext = status === "";
  const isOverall = i === checklistRows.length - 1;
  if (isContext) {
    cellText(colA + colAW / 2, ry + 19, label, "middle", 13.5);
    return;
  }
  table.append("rect").attr("x", colA).attr("y", ry).attr("width", colAW).attr("height", 28)
    .attr("fill", isOverall ? "#363a45" : "#1e1e1e");
  table.append("rect").attr("x", colB).attr("y", ry).attr("width", colBW).attr("height", 28)
    .attr("fill", status === "✓" ? "#4caf50" : "#ff5252");
  cellText(25, ry + 19, label, "start", 13.5);
  if (isOverall) cellText(colB + colBW / 2, ry + 19, status, "middle", 13.5);
  else cellText(colB + colBW / 2, ry + 20.5, status, "middle", 18, "DejaVu Sans", "bold");
});

// logo
const logo = svg.append("g").attr("fill", "#131722");
logo.append("path").attr("d", "M12,913 H27 V928 H19.5 V920 H12 Z");
logo.append("circle").attr("cx", 30.5).attr("cy", 916.5).attr("r", 3.5);
logo.append("path").attr("d", "M35,913 H41.7 L34,928 H27.6 Z");
svg.append("text").attr("x", 49).attr("y", 928).text("TradingView")
  .attr("font-size", 22).attr("font-weight", 500).attr("fill", "#131722");
</script>
</body>
</html>
